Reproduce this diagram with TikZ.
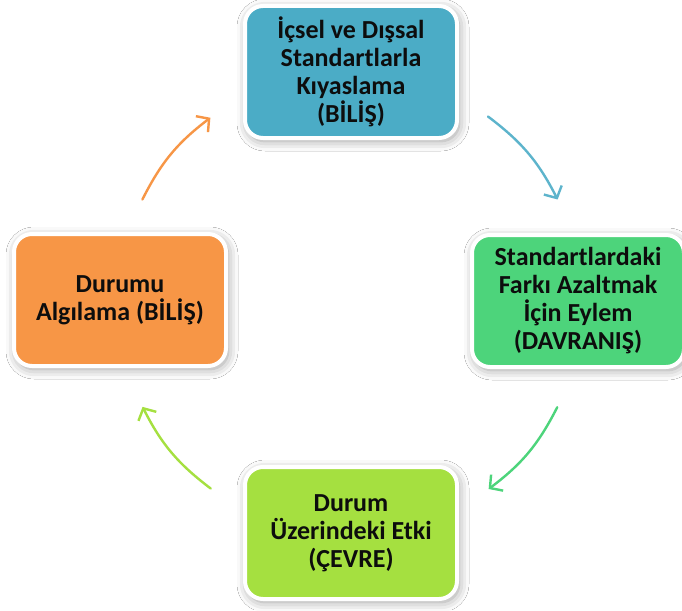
\documentclass[tikz,border=0pt]{standalone}
\usepackage{fontspec}
\setmainfont{Carlito}
\usepackage{tikz}
\usetikzlibrary{arrows.meta,shadows.blur}

\definecolor{kyAqua}{HTML}{4BACC6}
\definecolor{kyGreen}{HTML}{4DD47B}
\definecolor{kyLime}{HTML}{A5E040}
\definecolor{kyOrange}{HTML}{F79646}

\tikzset{
  stage/.style={rectangle,rounded corners=18pt,draw=white,line width=4pt,
    minimum width=212pt,minimum height=132pt,align=center,text=black!95,
    font=\bfseries\fontsize{26}{28}\selectfont,
    blur shadow={shadow xshift=2pt,shadow yshift=-3pt,shadow blur radius=10pt,
      shadow opacity=40}},
  cyc/.style={line width=2.4pt,line cap=round,bend left=13,
    -{Straight Barb[length=9pt,width=20pt,line width=2.4pt]}}
}

\begin{document}
\begin{tikzpicture}[x=1pt,y=-1pt]
  \useasboundingbox[fill=white] (0,0) rectangle (682,610);
  % the four stages
  \node[stage,fill=kyAqua] (compare) at (351,72)
    {İçsel ve Dışsal\\Standartlarla\\Kıyaslama\\(BİLİŞ)};
  \node[stage,fill=kyGreen] (act) at (578,301)
    {Standartlardaki\\Farkı Azaltmak\\İçin Eylem\\(DAVRANIŞ)};
  \node[stage,fill=kyLime] (effect) at (351,533)
    {Durum\\Üzerindeki Etki\\(ÇEVRE)};
  \node[stage,fill=kyOrange] (perceive) at (120,300)
    {Durumu\\Algılama (BİLİŞ)};
  % arrow ends on a circle round the middle
  \coordinate (mid) at (350,303);
  \coordinate (o1) at ([shift={(153.5:232pt)}]mid);
  \coordinate (o2) at ([shift={(127:232pt)}]mid);
  \coordinate (b1) at ([shift={(53.5:232pt)}]mid);
  \coordinate (b2) at ([shift={(26.5:232pt)}]mid);
  \coordinate (g1) at ([shift={(-26.7:232pt)}]mid);
  \coordinate (g2) at ([shift={(-53.3:232pt)}]mid);
  \coordinate (l1) at ([shift={(-126.9:232pt)}]mid);
  \coordinate (l2) at ([shift={(-153.4:232pt)}]mid);
  % the cycle
  \draw[cyc,kyOrange] (o1) to (o2);
  \draw[cyc,kyAqua!90!white] (b1) to (b2);
  \draw[cyc,kyGreen] (g1) to (g2);
  \draw[cyc,kyLime] (l1) to (l2);
\end{tikzpicture}
\end{document}
